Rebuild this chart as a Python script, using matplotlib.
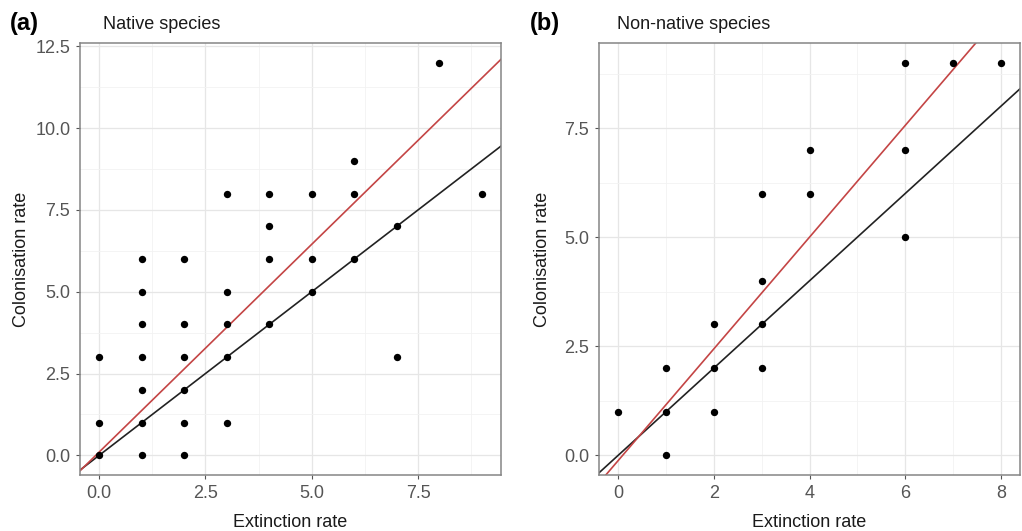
import matplotlib.pyplot as plt
from matplotlib.ticker import MultipleLocator

plt.rcParams['font.family'] = ['Liberation Sans', 'DejaVu Sans']

# panel (a) native species
nat_ext = [0, 0, 0, 1, 1, 1, 1, 1, 1, 1, 2, 2, 2, 2, 2, 2, 3, 3, 3, 3, 3,
           4, 4, 4, 4, 5, 5, 5, 6, 6, 6, 7, 7, 8, 9]
nat_col = [0, 1, 3, 0, 1, 2, 3, 4, 5, 6, 0, 1, 2, 3, 4, 6, 1, 3, 4, 5, 8,
           4, 6, 7, 8, 5, 6, 8, 6, 8, 9, 3, 7, 12, 8]
nat_fit = (0.1, 1.27)  # intercept, slope

# panel (b) non-native species
non_ext = [0, 1, 1, 1, 2, 2, 2, 3, 3, 3, 3, 4, 4, 6, 6, 6, 7, 8]
non_col = [1, 0, 1, 2, 1, 2, 3, 2, 3, 4, 6, 6, 7, 5, 7, 9, 9, 9]
non_fit = (-0.12, 1.28)

fig = plt.figure(figsize=(10.22, 5.31), dpi=100)
W, H = 1022, 531
ax1 = fig.add_axes([80 / W, 1 - 475 / H, 421 / W, 432 / H])
ax2 = fig.add_axes([599 / W, 1 - 475 / H, 421 / W, 432 / H])


def style(ax, x, y, fit, xlim, ylim, xmaj, ymaj, ylab_x):
    ax.set_xlim(*xlim)
    ax.set_ylim(*ylim)
    ax.xaxis.set_major_locator(MultipleLocator(xmaj))
    ax.xaxis.set_minor_locator(MultipleLocator(xmaj / 2))
    ax.yaxis.set_major_locator(MultipleLocator(ymaj))
    ax.yaxis.set_minor_locator(MultipleLocator(ymaj / 2))
    ax.grid(which='major', color='#e6e6e6', lw=0.9, zorder=0)
    ax.grid(which='minor', color='#f2f2f2', lw=0.6, zorder=0)
    ax.set_axisbelow(True)
    for s in ax.spines.values():
        s.set_color('#858585')
        s.set_linewidth(1.1)
    ax.tick_params(which='minor', length=0)
    ax.tick_params(which='major', length=3, color='#555555',
                   labelsize=13, labelcolor='#555555', pad=4)
    xs = list(xlim)
    ax.plot(xs, xs, color='#222222', lw=1.2, zorder=2)
    ax.plot(xs, [fit[0] + fit[1] * v for v in xs], color='#c44545',
            lw=1.2, zorder=2)
    ax.scatter(x, y, s=28, color='black', zorder=3, linewidths=0)
    ax.set_xlabel('Extinction rate', fontsize=13, color='#1a1a1a')
    ax.set_ylabel('Colonisation rate', fontsize=13, color='#1a1a1a')
    ax.xaxis.set_label_coords(0.5, -0.09)
    ax.yaxis.set_label_coords(ylab_x, 0.5)


style(ax1, nat_ext, nat_col, nat_fit, (-0.45, 9.45), (-0.6, 12.6), 2.5, 2.5, -0.118)
ax1.xaxis.set_major_formatter(lambda v, p: f'{v:.1f}')
ax1.yaxis.set_major_formatter(lambda v, p: f'{v:.1f}')
style(ax2, non_ext, non_col, non_fit, (-0.4, 8.4), (-0.45, 9.45), 2, 2.5, -0.114)
ax2.xaxis.set_minor_locator(MultipleLocator(1))
ax2.yaxis.set_major_formatter(lambda v, p: f'{v:.1f}')

fig.text(10 / W, 1 - 30 / H, '(a)', fontsize=17, fontweight='bold', va='baseline')
fig.text(530 / W, 1 - 30 / H, '(b)', fontsize=17, fontweight='bold', va='baseline')
fig.text(103 / W, 1 - 29 / H, 'Native species', fontsize=13, color='#1a1a1a', va='baseline')
fig.text(617 / W, 1 - 29 / H, 'Non-native species', fontsize=13, color='#1a1a1a', va='baseline')

fig.savefig('out.png', dpi=100)
